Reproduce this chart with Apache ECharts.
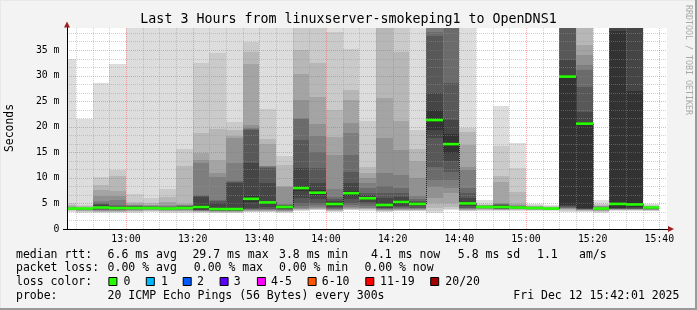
<!DOCTYPE html>
<html>
<head>
<meta charset="utf-8">
<script src="https://cdn.jsdelivr.net/npm/echarts@6/dist/echarts.min.js"></script>
<style>html,body{margin:0;padding:0;background:#f3f3f3;}#c{width:697px;height:310px;}</style>
</head>
<body>
<div id="c"></div>
<script>
// ---- data (minutes after 12:00) ----
const colStart = [40,45,50,55,60,65,70,75,80,85,90,95,100,105,110,115,120,125,130,135,140,145,150,155,160,165,170,175,180,185,190,195,200,205,210,215];
// 20 sorted ping RTTs per 5-minute step (ms)
const pings = [
 [3.4,3.6,3.7,3.8,3.8,3.9,3.9,3.9,4.0,4.0,4.0,4.0,4.1,4.1,4.2,4.3,4.4,4.6,5.1,33.2],
 [3.2,3.4,3.5,3.6,3.7,3.8,3.8,3.9,3.9,4.0,4.0,4.0,4.1,4.1,4.2,4.2,4.3,4.4,4.6,21.6],
 [3.2,3.3,3.4,3.5,3.6,3.7,3.8,3.9,4.0,4.1,4.3,4.6,4.8,5.1,5.5,6.5,7.6,8.7,10.2,28.6],
 [3.1,3.3,3.4,3.5,3.6,3.7,3.8,3.9,3.9,4.0,4.1,4.3,4.5,4.7,5.6,6.5,7.4,10.4,11.5,32.3],
 [3.2,3.4,3.5,3.6,3.7,3.8,3.9,3.9,4.0,4.1,4.2,4.3,4.4,4.5,4.6,4.7,4.9,5.3,6.8,45],
 [3.3,3.5,3.6,3.7,3.8,3.9,3.9,4.0,4.0,4.1,4.1,4.2,4.3,4.4,4.5,4.6,4.7,5.0,6.1,45],
 [3.2,3.4,3.5,3.6,3.7,3.8,3.8,3.9,3.9,4.0,4.0,4.1,4.2,4.3,4.4,4.6,5.2,6.3,7.8,45],
 [3.2,3.4,3.5,3.6,3.7,3.8,3.9,3.9,4.0,4.1,4.2,4.3,4.4,4.5,4.6,4.7,4.9,12.4,15.6,45],
 [3.2,3.3,3.4,3.5,3.6,3.6,3.7,3.7,3.8,4.0,4.6,6.2,6.4,6.6,12.9,13.5,14.9,18.7,32.5,45],
 [3.1,3.2,3.3,3.4,3.5,3.5,3.6,3.6,3.7,3.8,4.2,5.1,5.4,5.7,10.1,10.9,13.5,19.5,34.4,45],
 [3.1,3.2,3.3,3.4,3.5,3.5,3.6,3.6,3.7,3.8,4.0,9.0,9.2,9.4,13.0,17.8,18.1,19.4,21.0,45],
 [3.3,3.4,3.5,3.6,3.7,3.8,3.9,4.0,4.2,5.3,6.5,13.0,19.3,19.5,19.7,20.3,32.3,34.7,36.5,45],
 [3.3,3.4,3.5,3.6,3.7,3.8,3.9,4.0,4.3,4.9,5.5,9.0,12.0,12.2,12.3,12.4,16.6,17.6,23.5,45],
 [3.2,3.3,3.4,3.5,3.6,3.7,3.8,3.9,4.0,4.2,4.4,4.5,4.6,4.7,4.8,8.3,8.4,12.5,14.3,45],
 [3.6,3.7,3.8,3.9,4.0,4.2,4.5,5.0,6.0,7.5,8.5,12.0,17.4,21.5,21.8,25.2,30.4,35.0,45,46],
 [3.7,3.8,3.9,4.0,4.1,4.3,4.6,5.0,5.8,6.6,7.6,8.9,12.0,15.1,18.2,20.5,25.9,32.4,45,46],
 [3.4,3.5,3.6,3.7,3.8,3.9,4.0,4.1,4.3,4.6,5.2,5.5,5.8,6.2,7.9,14.5,18.0,23.3,38.6,45],
 [3.7,3.8,3.9,4.0,4.1,4.3,4.6,5.1,5.8,6.5,7.5,8.9,11.2,14.5,18.8,20.7,25.2,27.1,35.1,45],
 [3.5,3.7,3.9,4.0,4.1,4.2,4.5,4.8,5.2,5.7,6.3,6.6,7.0,8.0,8.9,10.0,11.0,12.1,21.2,45],
 [3.4,3.5,3.6,3.7,3.8,3.9,4.0,4.1,4.2,4.4,5.0,6.0,7.0,8.5,10.9,17.7,25.6,45,46,47],
 [3.5,3.6,3.7,3.8,3.9,4.0,4.1,4.3,4.5,4.9,5.7,6.3,7.0,8.0,10.6,15.4,21.2,34.7,45,46],
 [3.5,3.6,3.7,3.8,3.9,4.0,4.1,4.2,4.4,4.7,5.1,5.3,5.5,5.8,6.5,9.9,13.2,15.6,19.4,45],
 [3.2,3.6,4.2,5.0,6.0,8.3,9.6,12.2,17.7,19.4,23.2,26.5,37.7,38.6,45,45.5,46,46.5,47,47.5],
 [3.7,3.9,4.3,5.1,7.0,8.0,9.6,11.2,13.2,14.8,18.5,21.3,28.5,40,45,45.5,46,46.5,47,47.5],
 [3.5,3.6,3.7,3.8,3.9,4.0,4.1,4.2,4.4,4.7,5.3,6.0,7.0,8.0,11.5,12.2,16.4,19.0,19.7,45],
 [3.5,3.7,3.8,3.9,4.0,4.1,4.1,4.2,4.2,4.3,4.3,4.4,4.4,4.5,4.5,4.6,4.6,4.7,4.8,5.7],
 [3.6,3.7,3.75,3.8,3.85,3.9,3.95,4.0,4.1,4.2,4.4,4.6,4.7,4.8,4.9,5.0,9.2,10.3,16.2,24.1],
 [3.6,3.7,3.8,3.85,3.9,3.95,4.0,4.05,4.1,4.15,4.25,4.3,4.4,4.5,4.55,4.6,4.8,7.3,11.9,16.8],
 [3.6,3.7,3.75,3.8,3.85,3.9,3.95,4.0,4.0,4.05,4.1,4.15,4.2,4.25,4.3,4.35,4.4,4.5,4.6,4.9],
 [3.6,3.65,3.7,3.75,3.8,3.85,3.9,3.9,3.95,4.0,4.0,4.05,4.1,4.1,4.15,4.2,4.25,4.3,4.4,4.6],
 [3.4,3.6,3.8,3.9,4.0,4.1,4.2,4.3,4.4,4.6,30.1,33.0,45,45.5,46,46.5,47,47.5,48,48.5],
 [3.3,3.5,3.6,3.7,3.75,3.8,3.85,3.9,4.0,4.2,21.0,22.9,27.8,31.1,32.0,34.0,36.0,45,45.5,46],
 [3.2,3.4,3.5,3.6,3.7,3.75,3.8,3.85,3.9,3.95,4.0,4.05,4.1,4.2,4.3,4.4,4.5,4.7,4.9,5.7],
 [3.6,3.7,3.75,3.8,3.85,3.9,3.95,4.0,4.1,4.2,38.8,45,45.5,46,46.5,47,47.5,48,48.5,49],
 [3.6,3.7,3.75,3.8,3.85,3.9,3.95,4.0,4.1,4.3,26.9,45,45.5,46,46.5,47,47.5,48,48.5,49],
 [3.5,3.6,3.7,3.75,3.8,3.85,3.9,3.95,4.0,4.05,4.1,4.15,4.2,4.25,4.3,4.35,4.4,4.5,4.6,4.8]
];
const medians = [4.0,4.0,4.2,4.1,4.1,4.1,4.0,4.1,4.3,3.9,3.9,5.9,5.2,4.3,8.0,7.1,4.9,7.0,6.0,4.7,5.3,4.9,21.3,16.6,5.0,4.3,4.3,4.2,4.1,4.0,29.8,20.6,4.0,4.9,4.8,4.2];
const xLabelValues = [60,80,100,120,140,160,180,200,220];
const xLabelTexts = ['13:00','13:20','13:40','14:00','14:20','14:40','15:00','15:20','15:40'];
const yLabelValues = [0,5,10,15,20,25,30,35];
const yLabelTexts = ['0','5 m','10 m','15 m','20 m','25 m','30 m','35 m'];
const X_MIN = 42.3, X_MAX = 222.3, Y_MAX = 39.3;

const legendLine1 = [[16,'median rtt:'],[107.6,'6.6 ms avg'],[192.4,'29.7 ms max'],[279,'3.8 ms min'],[371,'4.1 ms now'],[457.8,'5.8 ms sd'],[537,'1.1'],[579,'am/s']];
const legendLine2 = [[16,'packet loss:'],[107.6,'0.00 % avg'],[193.8,'0.00 % max'],[279,'0.00 % min'],[364.4,'0.00 % now']];
const lossLabels = ['0','1','2','3','4-5','6-10','11-19','20/20'];
const lossColors = ['#26ff00','#00b8ff','#0059ff','#5e00ff','#ff00ff','#ff5500','#ff0000','#a00000'];
const lossBoxX = [108.4,145.8,182.7,219.6,256.9,307.6,365.3,430.2];
const lossTextX = [123.6,160.9,196.9,233.8,271.1,321.8,380,445.3];

// ---- build ----
const SHADES = ['#dddddd','#cacaca','#b7b7b7','#a4a4a4','#919191','#7e7e7e','#6b6b6b','#585858','#454545','#323232'];
const FONT = '"DejaVu Sans Mono", monospace';
const smokeData = colStart.map((s,i) => [s, s+5].concat(pings[i]));
const medianData = colStart.map((s,i) => [s, s+5, medians[i], i>0 ? medians[i-1] : medians[i]]);

const gridLines = [];
for (let m = 45; m <= 220; m += 5) gridLines.push([m % 20 === 0 ? 1 : 0, m]);
for (let k = 1; k * 5/3 < Y_MAX; k++) gridLines.push([k % 3 === 0 ? 3 : 2, k * 5/3]);

const chart = echarts.init(document.getElementById('c'), null, {renderer:'canvas', width:697, height:310});

const graphic = [];
// frame
graphic.push({type:'line', shape:{x1:0.5,y1:0,x2:0.5,y2:310}, style:{stroke:'#e8e8e8',lineWidth:1}, silent:true});
graphic.push({type:'line', shape:{x1:0,y1:0.5,x2:697,y2:0.5}, style:{stroke:'#e8e8e8',lineWidth:1}, silent:true});
graphic.push({type:'line', shape:{x1:696,y1:0,x2:696,y2:310}, style:{stroke:'#9a9a9a',lineWidth:2}, silent:true});
graphic.push({type:'line', shape:{x1:0,y1:309,x2:697,y2:309}, style:{stroke:'#9a9a9a',lineWidth:2}, silent:true});
// title
graphic.push({type:'text', x:348.5, y:19.5, style:{text:'Last 3 Hours from linuxserver-smokeping1 to OpenDNS1', font:'13.3px '+FONT, fill:'#000', align:'center', verticalAlign:'middle'}});
// y name
graphic.push({type:'text', x:10.5, y:128, rotation:Math.PI/2, style:{text:'Seconds', font:'11.4px '+FONT, fill:'#000', align:'center', verticalAlign:'middle'}});
// watermark
graphic.push({type:'text', x:688, y:5, rotation:-Math.PI/2, style:{text:'RRDTOOL / TOBI OETIKER', font:'8.3px '+FONT, fill:'#a8a8a8', align:'left', verticalAlign:'middle'}});
// arrows
graphic.push({type:'polygon', shape:{points:[[67,21.5],[64,27.5],[70,27.5]]}, style:{fill:'#9c2020'}, z:100});
graphic.push({type:'polygon', shape:{points:[[674,229],[668,226],[668,232]]}, style:{fill:'#9c2020'}, z:100});
graphic.push({type:'line', shape:{x1:67.5,y1:27,x2:67.5,y2:229}, style:{stroke:'#000',lineWidth:1}, z:99});
graphic.push({type:'line', shape:{x1:63,y1:229.5,x2:669,y2:229.5}, style:{stroke:'#000',lineWidth:1}, z:99});
// legend text
const LF = '11.5px ' + FONT;
legendLine1.forEach(p => graphic.push({type:'text', x:p[0], y:254.7, style:{text:p[1], font:LF, fill:'#000', verticalAlign:'middle'}}));
legendLine2.forEach(p => graphic.push({type:'text', x:p[0], y:268.5, style:{text:p[1], font:LF, fill:'#000', verticalAlign:'middle'}}));
graphic.push({type:'text', x:16, y:282.3, style:{text:'loss color:', font:LF, fill:'#000', verticalAlign:'middle'}});
lossLabels.forEach((t,i) => {
  graphic.push({type:'rect', shape:{x:lossBoxX[i]+0.5, y:277.5, width:8, height:8}, style:{fill:lossColors[i], stroke:'#000', lineWidth:1}});
  graphic.push({type:'text', x:lossTextX[i], y:282.3, style:{text:t, font:LF, fill:'#000', verticalAlign:'middle'}});
});
graphic.push({type:'text', x:16, y:296.2, style:{text:'probe:', font:LF, fill:'#000', verticalAlign:'middle'}});
graphic.push({type:'text', x:107.6, y:296.2, style:{text:'20 ICMP Echo Pings (56 Bytes) every 300s', font:LF, fill:'#000', verticalAlign:'middle'}});
graphic.push({type:'text', x:513.3, y:296.2, style:{text:'Fri Dec 12 15:42:01 2025', font:LF, fill:'#000', verticalAlign:'middle'}});

function smokeItem(params, api) {
  const s = api.value(0), e = api.value(1);
  const children = [];
  const xa = Math.round(api.coord([s, 0])[0]), xb = Math.round(api.coord([e, 0])[0]);
  for (let k = 1; k < 20; k++) {
    const lo = Math.min(api.value(1 + k), Y_MAX), hi = Math.min(api.value(2 + k), Y_MAX);
    if (hi <= lo) continue;
    const yh = Math.round(api.coord([s, hi])[1]), yl = Math.round(api.coord([s, lo])[1]);
    if (yl - yh <= 0) continue;
    children.push({type:'rect', shape:{x:xa, y:yh, width:xb-xa, height:yl-yh}, style:{fill:SHADES[Math.min(k, 20-k)-1]}});
  }
  return {type:'group', children};
}
function gridItem(params, api) {
  const kind = api.value(0), v = api.value(1);
  let p0, p1;
  if (kind < 2) { p0 = api.coord([v, 0]); p1 = api.coord([v, Y_MAX]); p0[0] = p1[0] = Math.round(p0[0]) + 0.5; }
  else { p0 = api.coord([X_MIN, v]); p1 = api.coord([X_MAX, v]); p0[1] = p1[1] = Math.round(p0[1]) + 0.5; }
  const major = kind === 1 || kind === 3;
  return {type:'line', shape:{x1:p0[0], y1:p0[1], x2:p1[0], y2:p1[1]},
    style:{stroke: major ? 'rgba(255,70,70,0.45)' : 'rgba(150,150,150,0.45)', lineWidth:1, lineDash:[1,1]}};
}
function medianItem(params, api) {
  const s = api.value(0), e = api.value(1), m = api.value(2), pm = api.value(3);
  const a = api.coord([s, m]), b = api.coord([e, m]), c = api.coord([s, pm]);
  const xa = Math.round(a[0]), xb = Math.round(b[0]);
  return {type:'group', children:[
    {type:'line', shape:{x1:xa+0.5, y1:c[1], x2:xa+0.5, y2:a[1]}, style:{stroke:'#202020', lineWidth:1, lineDash:[1,1]}},
    {type:'rect', shape:{x:xa, y:a[1]-1.3, width:xb-xa, height:2.6}, style:{fill:'#26ff00'}}
  ]};
}

chart.setOption({
  backgroundColor:'#f3f3f3',
  animation:false,
  grid:{left:67, right:30, top:28, bottom:81, show:true, backgroundColor:'#ffffff', borderWidth:0},
  xAxis:{type:'value', min:X_MIN, max:X_MAX,
    axisLine:{show:false}, axisTick:{show:false}, splitLine:{show:false},
    axisLabel:{customValues:xLabelValues, margin:5, color:'#000', fontFamily:'DejaVu Sans Mono', fontSize:9.8,
      formatter:v => { const i = xLabelValues.indexOf(Math.round(v)); return i >= 0 ? xLabelTexts[i] : ''; }}},
  yAxis:{type:'value', min:0, max:Y_MAX, interval:5,
    axisLine:{show:false}, axisTick:{show:false}, splitLine:{show:false},
    axisLabel:{showMaxLabel:false, margin:7.5, color:'#000', fontFamily:'DejaVu Sans Mono', fontSize:9.8,
      formatter:v => { const i = yLabelValues.indexOf(v); return i >= 0 ? yLabelTexts[i] : ''; }}},
  graphic: graphic,
  series:[
    {type:'custom', name:'smoke', renderItem:smokeItem, data:smokeData, clip:true, z:2, encode:{x:[0,1], y:2}, silent:true},
    {type:'custom', name:'grid', renderItem:gridItem, data:gridLines, clip:true, z:3, encode:{x:1, y:1}, silent:true},
    {type:'custom', name:'median', renderItem:medianItem, data:medianData, clip:true, z:4, encode:{x:[0,1], y:2}, silent:true}
  ]
});
</script>
</body>
</html>
